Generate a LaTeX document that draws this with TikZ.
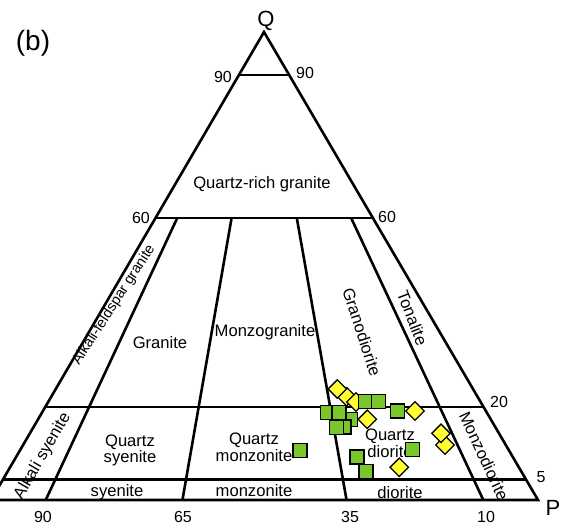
\documentclass[tikz,border=0pt]{standalone}
\usepackage{fontspec}
\setmainfont{Liberation Sans}
\usetikzlibrary{calc}
\definecolor{ptgreen}{RGB}{122,199,44}
\definecolor{ptyellow}{RGB}{255,255,51}
\begin{document}
\begin{tikzpicture}[x=1pt,y=-1pt,
  edge/.style={line width=2.6pt,line join=miter},
  lbl/.style={font=\fontsize{16.6}{17}\selectfont, inner sep=0pt},
  small/.style={font=\fontsize{14.5}{15}\selectfont, inner sep=0pt},
  num/.style={font=\fontsize{16}{16}\selectfont, inner sep=0pt},
  big/.style={font=\fontsize{22}{22}\selectfont, inner sep=0pt},
  sq/.style={rectangle, draw=black, line width=1.3pt, fill=ptgreen, minimum size=14pt, inner sep=0pt},
  dm/.style={rectangle, draw=black, line width=1.3pt, fill=ptyellow, minimum size=13pt, inner sep=0pt, rotate=45}
]
\useasboundingbox (0,0) rectangle (573,525);
% corners
\coordinate (A) at (-9,500);
\coordinate (P) at (538,500);
\coordinate (Q) at (264,32);
% horizontal boundaries
\coordinate (L90) at ($(Q)!0.0919!(A)$);
\coordinate (R90) at ($(Q)!0.0919!(P)$);
\coordinate (L60) at ($(Q)!0.3974!(A)$);
\coordinate (R60) at ($(Q)!0.3974!(P)$);
\coordinate (L20) at ($(Q)!0.8013!(A)$);
\coordinate (R20) at ($(Q)!0.8013!(P)$);
\coordinate (L5) at ($(Q)!0.9562!(A)$);
\coordinate (R5) at ($(Q)!0.9562!(P)$);
% radiating boundaries
\coordinate (B10) at ($(A)!0.10!(P)$);
\coordinate (B35) at ($(A)!0.35!(P)$);
\coordinate (B65) at ($(A)!0.65!(P)$);
\coordinate (B90) at ($(A)!0.90!(P)$);
\coordinate (T10) at ($(Q)!0.3974!(B10)$);
\coordinate (T35) at ($(Q)!0.3974!(B35)$);
\coordinate (T65) at ($(Q)!0.3974!(B65)$);
\coordinate (T90) at ($(Q)!0.3974!(B90)$);

\draw[edge] (Q) -- (A) -- (P) -- cycle;
\draw[edge] (L90) -- (R90);
\draw[edge] (L60) -- (R60);
\draw[edge] (L20) -- (R20);
\draw[edge] (L5) -- (R5);
\draw[edge] (T10) -- (B10);
\draw[edge] (T35) -- (B35);
\draw[edge] (T65) -- (B65);
\draw[edge] (T90) -- (B90);

% corner and tick labels
\node[font=\fontsize{28}{28}\selectfont, inner sep=0pt] (tb) at (33,43.5) {(b)};
\node[big] (tq) at (266,21) {Q};
\node[big] (tp) at (553,508) {P};
\node[num] (n90l) at (223,77) {90};
\node[num] (n90r) at (305,73) {90};
\node[num] (n60l) at (141,218) {60};
\node[num] (n60r) at (387,217) {60};
\node[num] (n20) at (499,402) {20};
\node[num] (n5) at (541,477) {5};
\node[num] (b90) at (43,517) {90};
\node[num] (b65) at (183,517) {65};
\node[num] (b35) at (350,517) {35};
\node[num] (b10) at (486,517) {10};

% field labels
\node[lbl, anchor=base] (f1) at (262,188) {Quartz-rich granite};
\node[lbl, anchor=base] (f2) at (160,348) {Granite};
\node[lbl, anchor=base] (f3) at (265,336.5) {Monzogranite};
\node[lbl, anchor=base] (f4a) at (130,446.5) {Quartz};
\node[lbl, anchor=base] (f4b) at (130,462) {syenite};
\node[lbl, anchor=base] (f5a) at (254,444.5) {Quartz};
\node[lbl, anchor=base] (f5b) at (254,461) {monzonite};
\node[lbl, anchor=base] (f6a) at (390,440.5) {Quartz};
\node[lbl, anchor=base] (f6b) at (390,457.5) {diorite};
\node[lbl, anchor=base] (f7) at (117,496.5) {syenite};
\node[lbl, anchor=base] (f8) at (254,496) {monzonite};
\node[lbl, anchor=base] (f9) at (400,498) {diorite};
\node[lbl, rotate=-72] (f10) at (362,332) {Granodiorite};
\node[lbl, rotate=-69] (f11) at (412.5,318) {Tonalite};
\node[lbl, rotate=-65] (f12) at (484,456) {Monzodiorite};
\node[lbl, rotate=60] (f13) at (42.7,456) {Alkali syenite};
\node[small, rotate=57] (f14) at (114,305) {Alkali-feldspar granite};

% samples
\node[dm] (d2) at (346.7,396.7) {};
\node[dm] (d1) at (337.3,389) {};
\node[dm] (d3) at (356,402) {};
\node[sq] (s6) at (350.5,419.5) {};
\node[sq] (s8) at (344,427) {};
\node[sq] (s4) at (327.7,412.7) {};
\node[sq] (s5) at (339,412.3) {};
\node[sq] (s7) at (336.7,427.3) {};
\node[sq] (s1) at (365.3,401.7) {};
\node[sq] (s2) at (378.3,401.7) {};
\node[dm] (d4) at (367.3,419.3) {};
\node[sq] (s3) at (397.3,411) {};
\node[dm] (d5) at (415,411) {};
\node[dm] (d7) at (445,445) {};
\node[dm] (d6) at (441,433.3) {};
\node[sq] (s9) at (412.7,449.5) {};
\node[sq] (s10) at (357,457) {};
\node[sq] (s11) at (366,471.7) {};
\node[dm] (d8) at (399.3,467.3) {};
\node[sq] (s12) at (300,450.7) {};
\end{tikzpicture}
\end{document}
